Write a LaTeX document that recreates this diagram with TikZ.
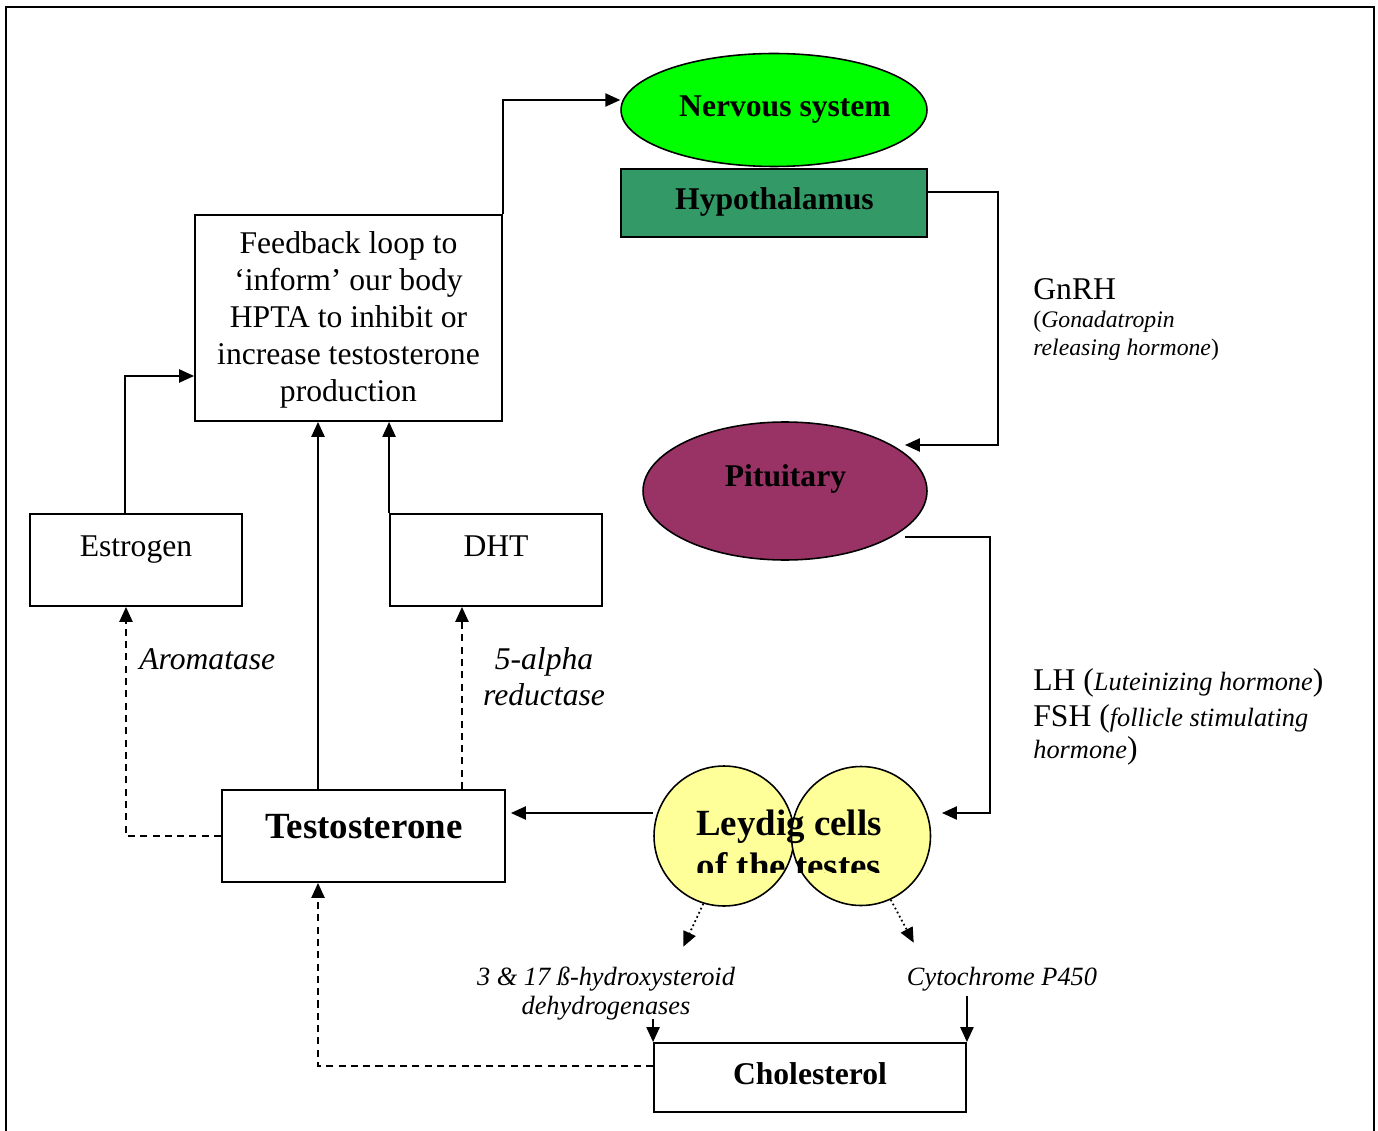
\documentclass[tikz,border=0pt]{standalone}
\usepackage{fontspec}
\setmainfont{Liberation Serif}
\usetikzlibrary{arrows.meta,shapes.geometric}
\definecolor{nsgreen}{RGB}{0,255,0}
\definecolor{hypgreen}{RGB}{51,153,102}
\definecolor{pitplum}{RGB}{153,51,102}
\definecolor{leyyellow}{RGB}{255,255,153}
\begin{document}
\begin{tikzpicture}[x=0.02cm,y=-0.02cm,
  box/.style={draw,line width=1.1pt,inner sep=0pt},
  blob/.style={draw,line width=0.9pt,inner sep=0pt},
  conn/.style={line width=1pt,-{Triangle[length=8.5pt,width=7.5pt]}},
  dashconn/.style={conn,dash pattern=on 4pt off 3pt},
  dotconn/.style={conn,dash pattern=on 1pt off 1.6pt},
  lbl/.style={inner sep=0pt,anchor=base},
  bfmid/.style={lbl,font=\fontsize{18}{21}\selectfont\bfseries},
  bfbig/.style={lbl,font=\fontsize{21}{24}\selectfont\bfseries},
  rmmid/.style={lbl,font=\fontsize{18}{21}\selectfont},
  itmid/.style={lbl,font=\fontsize{18}{20.5}\selectfont\itshape},
  itsmall/.style={lbl,font=\fontsize{15}{17}\selectfont\itshape}]
\useasboundingbox (0,0) rectangle (1378,1131);
% frame
\draw[line width=1.4pt] (6,1140) -- (6,7) -- (1374,7) -- (1374,1140);

% shapes
\node[blob,ellipse,fill=nsgreen,minimum width=6.12cm,minimum height=2.26cm] (ns) at (774,110) {};
\node[box,fill=hypgreen,minimum width=6.12cm,minimum height=1.36cm] (hyp) at (774,203) {};
\node[box,minimum width=6.14cm,minimum height=4.12cm] (fb) at (348.5,318) {};
\node[box,minimum width=4.24cm,minimum height=1.84cm] (est) at (136,560) {};
\node[box,minimum width=4.24cm,minimum height=1.84cm] (dht) at (496,560) {};
\node[box,minimum width=5.66cm,minimum height=1.84cm] (tst) at (363.5,836) {};
\node[blob,ellipse,fill=pitplum,minimum width=5.68cm,minimum height=2.76cm] (pit) at (785,491) {};
\node[blob,circle,fill=leyyellow,minimum size=2.8cm] (ley1) at (724,836) {};
\node[blob,circle,fill=leyyellow,minimum size=2.78cm] (ley2) at (861,836) {};
\node[box,minimum width=6.24cm,minimum height=1.38cm] (cho) at (810,1077.5) {};

% texts
\node[bfmid] (nstxt) at (785,117) {Nervous system};
\node[bfmid] (hyptxt) at (774.5,210) {Hypothalamus};
\node[rmmid,anchor=center,align=center] (fbtxt) at (348.5,320)
  {Feedback loop to\\‘inform’ our body\\HPTA to inhibit or\\increase testosterone\\production};
\node[rmmid] (esttxt) at (136,556) {Estrogen};
\node[rmmid] (dhttxt) at (496,556) {DHT};
\node[bfbig] (tsttxt) at (364,838) {Testosterone};
\node[bfmid] (pittxt) at (785.5,486) {Pituitary};
\begin{scope}
  \clip (600,780) rectangle (960,872);
  \node[bfbig] (leytxt1) at (789,835) {Leydig cells};
  \node[bfbig] (leytxt2) at (789,878) {of the testes};
\end{scope}
\node[bfmid] (chotxt) at (810,1084) {Cholesterol};
\node[itmid,anchor=base west] (aro) at (139,669) {Aromatase};
\node[itmid] (red1) at (544,669) {5-alpha};
\node[itmid] (red2) at (544,705) {reductase};
\node[rmmid,anchor=base west] (gnrh1) at (1033,300) {GnRH};
\node[lbl,anchor=base west,font=\fontsize{13.5}{15}\selectfont] (gnrh2) at (1033,328) {(\textit{Gonadatropin}};
\node[lbl,anchor=base west,font=\fontsize{13.5}{15}\selectfont] (gnrh3) at (1033,356) {\textit{releasing hormone})};
\node[rmmid,anchor=base west] (lh1) at (1033,690) {LH ({\fontsize{15}{17}\selectfont\itshape Luteinizing hormone})};
\node[rmmid,anchor=base west] (lh2) at (1033,726) {FSH ({\fontsize{15}{17}\selectfont\itshape follicle stimulating}};
\node[rmmid,anchor=base west] (lh3) at (1033,758) {{\fontsize{15}{17}\selectfont\itshape hormone})};
\node[itsmall] (hsd1) at (606,985) {3 \& 17 ß-hydroxysteroid};
\node[itsmall] (hsd2) at (606,1014) {dehydrogenases};
\node[itsmall] (cyp) at (1002,985) {Cytochrome P450};

% connectors
\coordinate (gnrhturn) at (998,445);
\coordinate (pitin) at (905,445);
\coordinate (lhturn) at (990,813);
\coordinate (leyin) at (942,813);
\draw[conn] (fb.north east) |- ([yshift=0.2cm]ns.west);
\draw[conn] ([yshift=0.22cm]hyp.east) -| (gnrhturn) -- (pitin);
\draw[conn] ([xshift=0.24cm]pit.-23.5) -| (lhturn) -- (leyin);
\draw[conn] ([yshift=0.46cm]ley1.west) -- ([yshift=0.46cm,xshift=0.1cm]tst.east);
\draw[conn] ([xshift=-0.91cm]tst.north) -- ([xshift=-0.91cm]tst.north |- fb.south);
\draw[dashconn] ([xshift=1.97cm]tst.north) -- ([xshift=1.97cm]tst.north |- dht.south);
\draw[dashconn] (tst.west) -| ([xshift=-0.2cm]est.south);
\draw[conn] (dht.north west) -- (dht.north west |- fb.south);
\draw[conn] ([xshift=-0.22cm]est.north) |- ([yshift=-1.16cm]fb.west);
\draw[dashconn] ([yshift=0.23cm]cho.west) -| ([xshift=-0.91cm]tst.south);
\draw[dotconn] (ley1.-107) -- ++(-20,43);
\draw[dotconn] (ley2.-65) -- ++(23,43);
\draw[conn] ([yshift=0.46cm]cho.north west) -- (cho.north west);
\draw[conn] ([yshift=0.92cm]cho.north east) -- (cho.north east);
\end{tikzpicture}
\end{document}
